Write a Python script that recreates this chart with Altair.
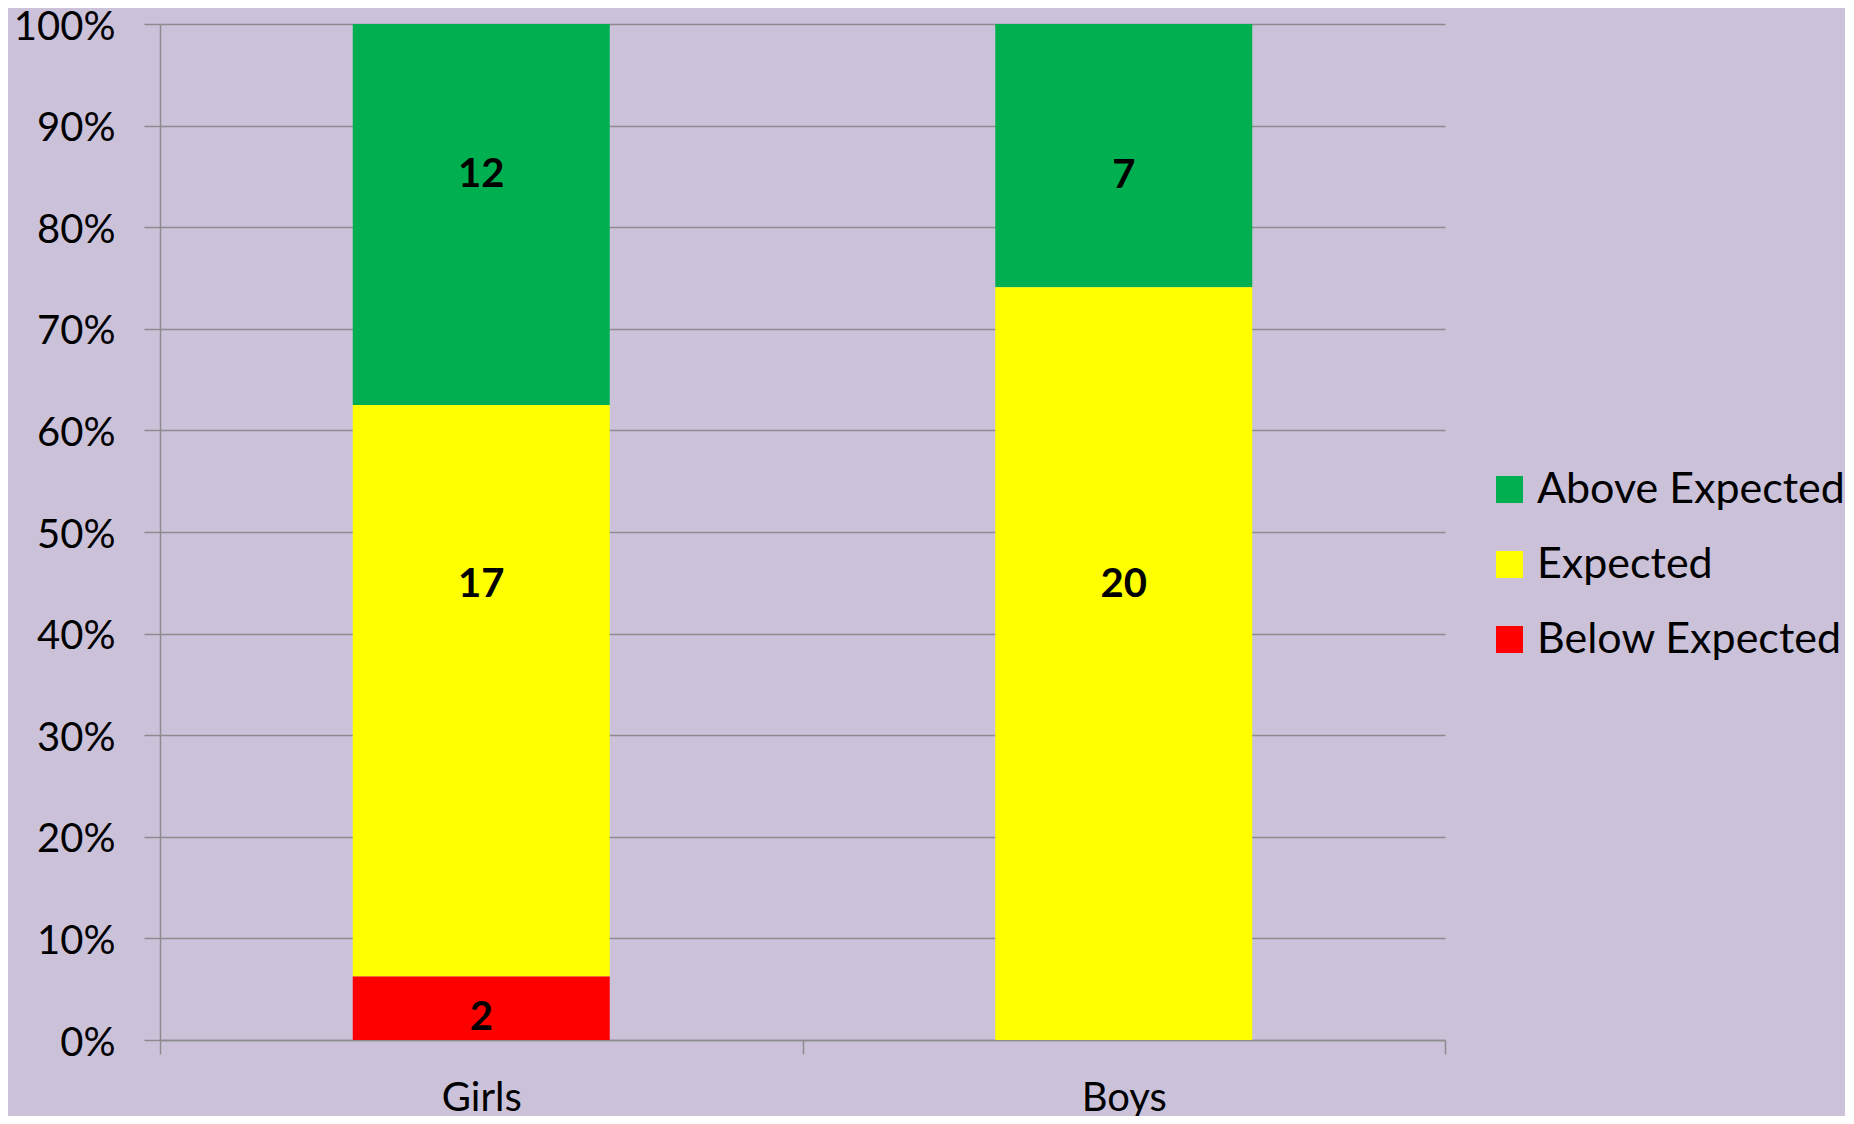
import altair as alt
import pandas as pd

groups = ["Girls", "Boys"]
levels = ["Above Expected", "Expected", "Below Expected"]
colors = ["#00B050", "#FFFF00", "#FF0000"]
stack_rank = {"Below Expected": 0, "Expected": 1, "Above Expected": 2}

# share of each bar (percent): Above, Expected, Below
girls_pct = [37.5, 56.25, 6.25]
boys_pct = [25.9, 74.1, 0.0]

# count labels printed on the segments
girls_labels = ["12", "17", "2"]
boys_labels = ["7", "20", ""]

# where the count labels sit (fraction of bar height)
girls_label_y = [0.854, 0.451, 0.025]
boys_label_y = [0.853, 0.451, 0.0]

rows = []
for g, pcts, labs, ly in [("Girls", girls_pct, girls_labels, girls_label_y),
                          ("Boys", boys_pct, boys_labels, boys_label_y)]:
    for lvl, p, lab, y in zip(levels, pcts, labs, ly):
        rows.append({"group": g, "level": lvl, "share": p / 100.0, "rank": stack_rank[lvl],
                     "label_y": y, "label": lab})
df = pd.DataFrame(rows)

FONT = "Lato"
GRID = "#8C8C8C"

x_enc = alt.X("group:N", sort=groups, title=None,
              scale=alt.Scale(paddingInner=0, paddingOuter=0),
              axis=alt.Axis(labelAngle=0, labelFontSize=40, labelFont=FONT, labelColor="black",
                            tickBand="extent", tickSize=14, tickColor=GRID, tickWidth=1.5,
                            domainColor=GRID, domainWidth=1.5, labelPadding=24))

bars = alt.Chart(df).mark_bar(width={"band": 0.4}).encode(
    x=x_enc,
    y=alt.Y("share:Q", stack="zero", title=None,
            scale=alt.Scale(domain=[0, 1], nice=False),
            axis=alt.Axis(format=".0%", values=[i / 10 for i in range(11)],
                          labelFontSize=40, labelFont=FONT, labelColor="black",
                          tickSize=16, tickColor=GRID, tickWidth=1.5,
                          domainColor=GRID, domainWidth=1.5,
                          gridColor=GRID, gridWidth=1.5, labelPadding=29, labelOffset=3)),
    color=alt.Color("level:N", scale=alt.Scale(domain=levels, range=colors),
                    legend=alt.Legend(title=None, orient="none", legendX=1328, legendY=444,
                                      symbolType="square", symbolSize=729, symbolStrokeWidth=0,
                                      labelFontSize=43, labelFont=FONT, labelColor="black",
                                      labelLimit=0, labelOffset=6, rowPadding=31)),
    order=alt.Order("rank:Q", sort="ascending"),
)

labels = alt.Chart(df[df["label"] != ""]).mark_text(
    fontSize=40, font=FONT, fontWeight="bold", color="black", baseline="middle", align="center",
    dy=3,
).encode(
    x=alt.X("group:N", sort=groups),
    y=alt.Y("label_y:Q"),
    text="label:N",
)

chart = alt.layer(bars, labels).properties(
    width=1285, height=1016,
    autosize=alt.AutoSizeParams(type="none"),
    padding={"left": 152, "top": 16, "right": 400, "bottom": 76},
    background="#CBC2DA",
).configure_view(stroke=None)

chart.save("out.html", embed_options={"renderer": "svg", "actions": False})
